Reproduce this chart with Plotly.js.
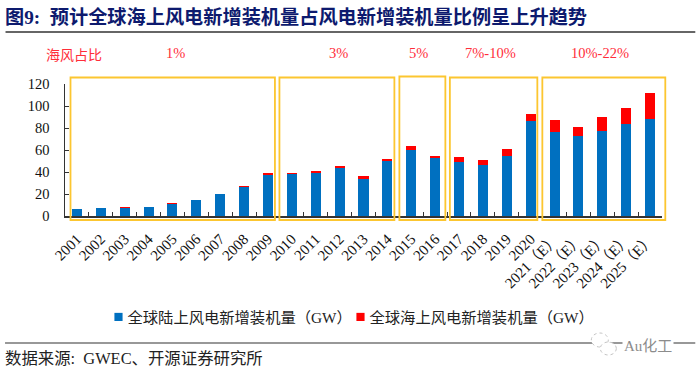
<!DOCTYPE html>
<html><head><meta charset="utf-8">
<script src="https://cdn.plot.ly/plotly-3.0.1.min.js"></script>
<style>html,body{margin:0;padding:0;background:#fff}#c{width:700px;height:376px}
.legendpoints path{transform:translate(31px,0) scale(.68)}
.legend .scrollbox{clip-path:none}</style></head>
<body><div id="c"></div>
<script>
const years=['2001','2002','2003','2004','2005','2006','2007','2008','2009','2010','2011','2012','2013','2014','2015','2016','2017','2018','2019','2020','2021（E）','2022（E）','2023（E）','2024（E）','2025（E）'];
const onshore=[6.4,7,7.6,8,11.3,14.7,19.7,26.4,37.6,38.3,39.5,44,34,49.7,60.3,52.7,49,46,54.2,86.4,76,73,77,83.3,88.2];
const offshore=[0.1,0.1,0.5,0.1,0.1,0.2,0.3,0.6,1.4,1.2,1.3,1.3,2,1.8,3.3,2.1,4.3,4.6,6.4,6.6,11.6,7.6,13.3,14.6,23.8];
const onshoreName='全球陆上风电新增装机量（GW）';
const offshoreName='全球海上风电新增装机量（GW）';
const titleText='图9:  预计全球海上风电新增装机量占风电新增装机量比例呈上升趋势';
const sourceText='数据来源:  GWEC、开源证券研究所';
const shareHead='海风占比';
const shareLabels=['1%','3%','5%','7%-10%','10%-22%'];
const shareLabelX=[175,338,418,490,600];
const boxLeft=[70,279,399,449.5,542];
const boxRight=[274.5,394,445,537,665];
const boxTop=[77.5,77.5,76.5,77.5,77.5];
const boxBottom=[220,220,220,220,220];
const W=700,H=376,L=64.5,R=661.7,T=84,B=216;
const serif='"Liberation Serif","Noto Sans CJK SC",serif';
const px=x=>(x-L)/(R-L), py=y=>(B-y)/(B-T);
const shapes=boxLeft.map((b,i)=>({type:'rect',xref:'paper',yref:'paper',x0:px(b),x1:px(boxRight[i]),y0:py(boxBottom[i]),y1:py(boxTop[i]),line:{color:'#fcc630',width:1.8},fillcolor:'rgba(0,0,0,0)'}));
shapes.push({type:'line',xref:'paper',yref:'paper',x0:px(5),x1:px(695),y0:py(32),y1:py(32),line:{color:'#333',width:1.5}});
shapes.push({type:'line',xref:'paper',yref:'paper',x0:px(4.5),x1:px(695),y0:py(343),y1:py(343),line:{color:'#333',width:1.2}});
shapes.push({type:'circle',xref:'paper',yref:'paper',x0:px(591),x1:px(608),y0:py(347),y1:py(333),line:{color:'#c4c4c4',width:1,dash:'dot'},fillcolor:'#fff'});
shapes.push({type:'circle',xref:'paper',yref:'paper',x0:px(600),x1:px(616),y0:py(355),y1:py(342),line:{color:'#c4c4c4',width:1,dash:'dot'},fillcolor:'#fff'});
const ann=(x,y,text,size,color,anchor,extra)=>Object.assign({xref:'paper',yref:'paper',x:px(x),y:py(y),text,showarrow:false,xanchor:anchor||'center',yanchor:'middle',font:{family:serif,size,color}},extra||{});
const annotations=[
 ann(2,17,'<b>'+titleText+'</b>',19.2,'#0d1a6e','left'),
 ann(43,55,shareHead,14,'#ff2d3a','left'),
 ...shareLabels.map((t,i)=>ann(shareLabelX[i],52.5,t,14.5,'#ff2d3a')),
 ann(2,358,sourceText,16.4,'#222','left'),
 ann(648,346,'Au化工',15,'#8c8c8c','center',{bgcolor:'#fff'})
];
Plotly.newPlot('c',[
 {type:'bar',name:onshoreName,x:years,y:onshore,marker:{color:'#0070c0'}},
 {type:'bar',name:offshoreName,x:years,y:offshore,marker:{color:'#ff0000'}}
],{
 width:W,height:H,barmode:'stack',bargap:0.58,
 margin:{l:L,r:W-R,t:T,b:H-B,pad:0},
 paper_bgcolor:'#fff',plot_bgcolor:'rgba(0,0,0,0)',showlegend:true,
 legend:{orientation:'h',traceorder:'normal',x:px(87),xanchor:'left',y:py(317),yanchor:'middle',font:{family:serif,size:15.3,color:'#222'},entrywidth:197,entrywidthmode:'pixels',itemwidth:30,bgcolor:'rgba(0,0,0,0)'},
 font:{family:serif,color:'#111'},
 xaxis:{type:'category',tickangle:-45,tickson:'boundaries',ticks:'inside',ticklen:4,tickcolor:'#333',tickwidth:1,showline:true,linecolor:'#333',linewidth:1.5,showgrid:false,ticklabelstandoff:7,tickfont:{family:serif,size:15,color:'#111'},fixedrange:true,automargin:false},
 yaxis:{range:[0,120],dtick:20,ticks:'inside',ticklen:4,tickcolor:'#333',tickwidth:1,showline:true,linecolor:'#333',linewidth:1.5,showgrid:false,zeroline:false,ticklabelstandoff:11,tickfont:{family:serif,size:14.5,color:'#111'},fixedrange:true,automargin:false},
 shapes,annotations
},{displayModeBar:false,staticPlot:true});
</script></body></html>
